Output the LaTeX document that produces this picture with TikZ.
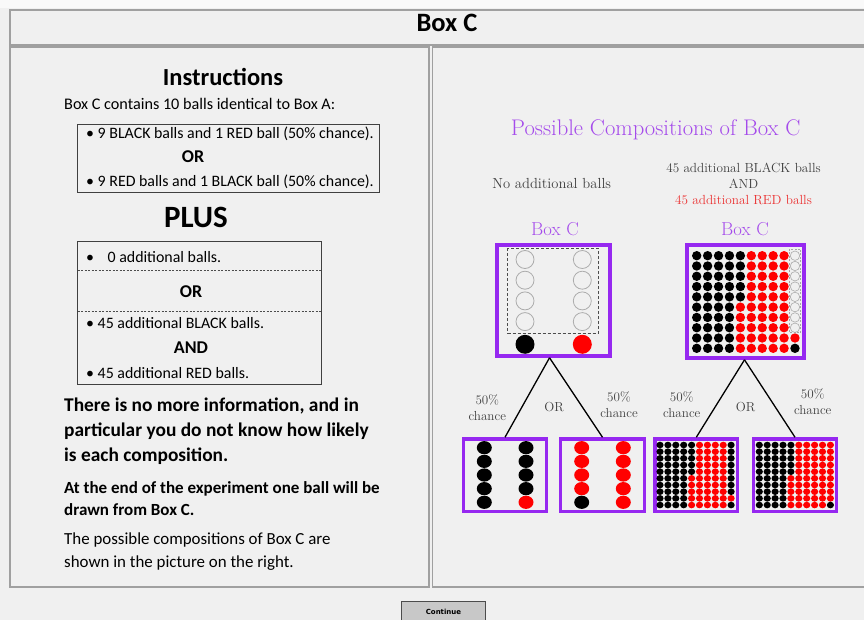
\documentclass[tikz,border=0pt]{standalone}
\usepackage{fontspec}
\newfontfamily\carl{Carlito}
\newfontfamily\dejav{DejaVu Sans}
\definecolor{bg}{RGB}{240,240,240}
\definecolor{frame}{RGB}{160,160,160}
\definecolor{pborder}{RGB}{150,40,240}
\definecolor{ptext}{RGB}{165,75,235}
\definecolor{rtext}{RGB}{235,50,50}
\definecolor{btn}{RGB}{200,200,200}
\tikzset{
  panel/.style={draw=frame, line width=1.2pt},
  lt/.style={inner sep=0pt, anchor=west, font={\carl\fontsize{15.9}{17}\selectfont}},
  ltc/.style={inner sep=0pt, font={\carl\bfseries\fontsize{18}{19}\selectfont}},
  lbold/.style={inner sep=0pt, anchor=west, font={\carl\bfseries\fontsize{19.4}{25}\selectfont}, align=left},
  infobox/.style={draw=black!75, line width=1pt},
  sep/.style={draw=black!70, line width=0.6pt, dash pattern=on 2pt off 1.5pt},
  pbox/.style={draw=pborder, line width=3.6pt, inner sep=0pt},
  tree/.style={line width=1.3pt},
  lbl/.style={font={\fontsize{13.1}{16}\selectfont}, align=center, text=black!75, inner sep=0pt},
  ptitle/.style={text=ptext, inner sep=0pt},
  ball/black/.style={fill=black},
  ball/red/.style={fill=red},
  ball/none/.style={draw=gray!65, line width=0.6pt},
}
\newcommand\ballgrid[7]{%
  \foreach \i in {1,...,10}{%
    \foreach \j in {1,...,10}{%
      \ifnum\i<5 \def\bc{black}%
      \else\ifnum\i=5 \ifnum\j<6 \def\bc{black}\else\def\bc{red}\fi
      \else\ifnum\i<10 \def\bc{red}%
      \else\ifnum\j=10 \def\bc{black}\else\ifnum\j=9 \def\bc{red}\else\def\bc{#7}\fi\fi
      \fi\fi\fi
      \path[ball/\bc] ({#1+(\i-1)*#3},{#2+(\j-1)*#4}) ellipse[x radius=#5pt, y radius=#6pt];
    }}}
\begin{document}
\begin{tikzpicture}[x=1pt,y=-1pt]
\useasboundingbox (0,0) rectangle (864,620);
\fill[bg] (0,0) rectangle (864,620);
\fill[white!60!bg] (0,0) rectangle (864,8);
% frames
\draw[panel] (10,10) rectangle (870,45);
\draw[panel] (10,47) rectangle (429,587);
\draw[panel] (432.5,47) rectangle (870,587);
\node[inner sep=0pt] (title) at (447,22.5) {\carl\bfseries\fontsize{26.5}{28}\selectfont Box C};
% continue button
\draw[fill=btn, draw=black!70, line width=1pt] (401.5,601.5) rectangle (485.5,625);
\node[inner sep=0pt] (cont) at (443.5,611.5) {\dejav\bfseries\fontsize{7}{8}\selectfont Continue};

% ---------- left panel ----------
\node[inner sep=0pt, font={\carl\bfseries\fontsize{24.5}{26}\selectfont}] (instr) at (223,77) {Instructions};
\node[lt, font={\carl\fontsize{16.2}{17}\selectfont}] (intro) at (64,104) {Box C contains 10 balls identical to Box A:};
\draw[infobox] (77,125) rectangle (379,193);
\node[lt] (b1) at (86,134) {• 9 BLACK balls and 1 RED ball (50\% chance).};
\node[ltc] (or1) at (193,157) {OR};
\node[lt] (b2) at (86,181.5) {• 9 RED balls and 1 BLACK ball (50\% chance).};
\node[inner sep=0pt, font={\carl\bfseries\fontsize{31}{33}\selectfont}] (plus) at (196,217) {PLUS};
\draw[infobox] (77,242) rectangle (321.5,384);
\node[lt] (c1) at (86,257) {•\hspace{0.85em}0 additional balls.};
\draw[sep] (77.5,270.7) -- (321,270.7);
\node[ltc] (or2) at (191,291.5) {OR};
\draw[sep] (77.5,311.7) -- (321,311.7);
\node[lt] (c2) at (86,323.3) {• 45 additional BLACK balls.};
\node[ltc] (and1) at (191,347.5) {AND};
\node[lt] (c3) at (86,372.7) {• 45 additional RED balls.};
\node[lbold, anchor=north west] (para1) at (64,398) {There is no more information, and in\\particular you do not know how likely\\is each composition.};
\node[lbold, anchor=north west, font={\carl\bfseries\fontsize{17}{22}\selectfont}] (para2) at (64,481) {At the end of the experiment one ball will be\\drawn from Box C.};
\node[lt, anchor=north west, align=left, font={\carl\fontsize{16.9}{23}\selectfont}] (para3) at (64,533) {The possible compositions of Box C are\\shown in the picture on the right.};

% ---------- right panel ----------
\node[ptitle, font={\fontsize{22.6}{24}\selectfont}] (rtitle) at (655.7,130) {Possible Compositions of Box C};
\node[lbl, font={\fontsize{14.6}{16}\selectfont}] (noadd) at (551.7,184) {No additional balls};
\node[lbl, font={\fontsize{13.2}{16}\selectfont}] (add) at (743.5,184) {45 additional BLACK balls\\AND\\\textcolor{rtext}{45 additional RED balls}};
\node[ptitle, font={\fontsize{18.7}{20}\selectfont}] (boxl) at (555,229.5) {Box C};
\node[ptitle, font={\fontsize{18.7}{20}\selectfont}] (boxr) at (745,229.5) {Box C};

% top boxes
\node[pbox, minimum width=113pt, minimum height=111pt] (top1) at (553.5,300.5) {};
\node[pbox, minimum width=117pt, minimum height=113pt] (top2) at (745.5,301.5) {};
% top-left content
\draw[black!70, line width=0.8pt, dash pattern=on 3pt off 2pt] (507.7,248.3) rectangle (598.3,333.3);
\foreach \yy in {259.5,280.2,300.9,321.6}{
  \draw[gray!65, line width=0.8pt] (525,\yy) circle[radius=9pt];
  \draw[gray!65, line width=0.8pt] (582.3,\yy) circle[radius=9pt];
}
\fill[black] (525,344.3) circle[radius=9.5pt];
\fill[red] (582.3,344.3) circle[radius=9.5pt];
% top-right content
\ballgrid{696.7}{255.7}{10.92}{10.29}{4.7}{4.7}{none}
\draw[gray!70, line width=0.6pt, dash pattern=on 2pt off 1.5pt] (789.5,249) rectangle (800.5,332.5);

% bottom boxes
\node[pbox, minimum width=83pt, minimum height=72.5pt] (bA) at (505,475.3) {};
\node[pbox, minimum width=84pt, minimum height=72.5pt] (bB) at (602.5,475.3) {};
\node[pbox, minimum width=82.5pt, minimum height=72.5pt] (bC) at (696.3,475.3) {};
\node[pbox, minimum width=83pt, minimum height=72.5pt] (bD) at (795,475.3) {};
% box A
\foreach \k in {0,...,4}{
  \fill[black] (484.3,{447.7+\k*13.65}) ellipse[x radius=7.5pt, y radius=6.6pt];
}
\foreach \k in {0,...,3}{
  \fill[black] (526,{447.7+\k*13.65}) ellipse[x radius=7.5pt, y radius=6.6pt];
}
\fill[red] (526,{447.7+4*13.65}) ellipse[x radius=7.5pt, y radius=6.6pt];
% box B
\foreach \k in {0,...,3}{
  \fill[red] (581.7,{447.7+\k*13.65}) ellipse[x radius=7.5pt, y radius=6.6pt];
}
\fill[black] (581.7,{447.7+4*13.65}) ellipse[x radius=7.5pt, y radius=6.6pt];
\foreach \k in {0,...,4}{
  \fill[red] (623.3,{447.7+\k*13.65}) ellipse[x radius=7.5pt, y radius=6.6pt];
}
% box C and D
\ballgrid{660}{445}{7.9}{6.67}{3.6}{3.3}{black}
\ballgrid{759.3}{445}{7.9}{6.67}{3.6}{3.3}{red}

% tree
\draw[tree] ([xshift=-4pt]top1.south) -- (bA.north);
\draw[tree] ([xshift=-4pt]top1.south) -- (bB.north);
\draw[tree] ([xshift=-1pt]top2.south) -- (bC.north);
\draw[tree] ([xshift=-1pt]top2.south) -- (bD.north);
\node[lbl] (l1) at (487.3,408) {50\%\\chance};
\node[lbl] (or3) at (554,406.7) {OR};
\node[lbl] (l2) at (619,405) {50\%\\chance};
\node[lbl] (l3) at (681.7,405) {50\%\\chance};
\node[lbl] (or4) at (745.7,406.7) {OR};
\node[lbl] (l4) at (812.7,401.5) {50\%\\chance};
\end{tikzpicture}
\end{document}
